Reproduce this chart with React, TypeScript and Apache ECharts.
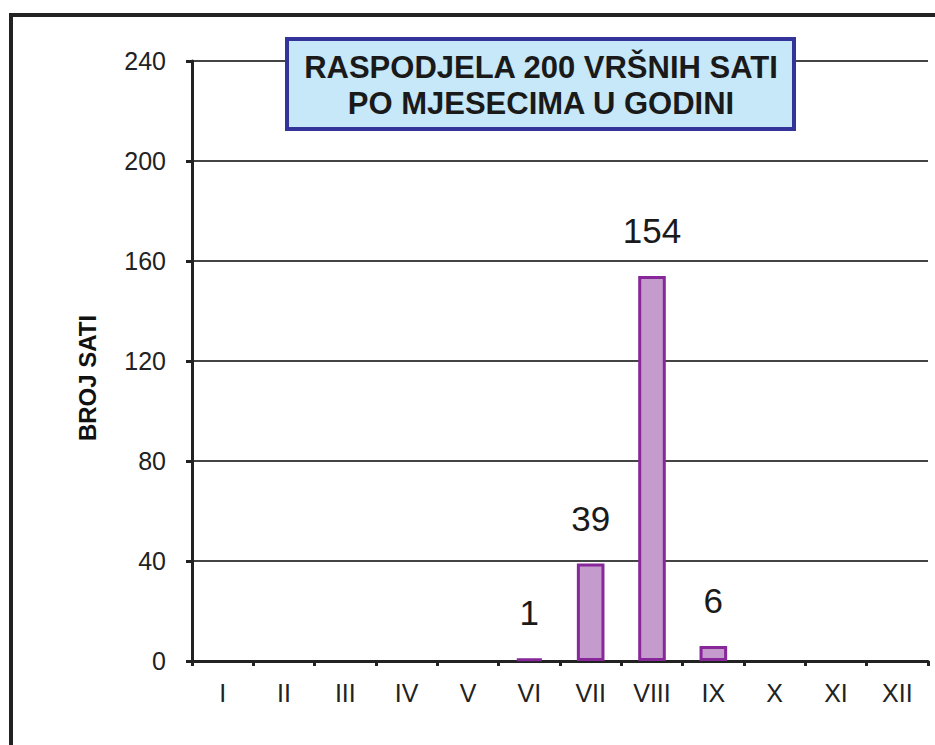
import React, { useEffect, useRef } from "react";
import * as echarts from "echarts";

const months = ["I", "II", "III", "IV", "V", "VI", "VII", "VIII", "IX", "X", "XI", "XII"];
const hours = [0, 0, 0, 0, 0, 1, 39, 154, 6, 0, 0, 0];
const titleLines = ["RASPODJELA 200 VRŠNIH SATI", "PO MJESECIMA U GODINI"];
const yAxisName = "BROJ SATI";

const FONT = "Liberation Sans, Arial, sans-serif";

export default function App() {
  const ref = useRef<HTMLDivElement>(null);
  useEffect(() => {
    if (!ref.current) return;
    const chart = echarts.init(ref.current, null, { renderer: "svg" });
    chart.setOption({
      animation: false,
      backgroundColor: "#ffffff",
      textStyle: { fontFamily: FONT },
      grid: { left: 192, right: 7, top: 61, bottom: 84, containLabel: false },
      xAxis: {
        type: "category",
        data: months,
        axisLine: { lineStyle: { color: "#222", width: 3 } },
        axisTick: { show: true, length: 5, lineStyle: { color: "#222", width: 3 } },
        axisLabel: { color: "#222", fontSize: 25, margin: 19 },
      },
      yAxis: {
        type: "value",
        min: 0,
        max: 240,
        interval: 40,
        axisLine: { show: true, lineStyle: { color: "#222", width: 3 } },
        axisTick: { show: true, length: 6, lineStyle: { color: "#222", width: 3 } },
        axisLabel: { color: "#222", fontSize: 25, margin: 26 },
        splitLine: { lineStyle: { color: "#444", width: 2 } },
      },
      series: [
        {
          type: "bar",
          data: hours.map((v) => (v > 0 ? v : null)),
          barWidth: "45%",
          itemStyle: { color: "#c49bcc", borderColor: "#87279a", borderWidth: 3 },
          label: {
            show: true,
            position: "top",
            distance: 28,
            fontSize: 35,
            color: "#1a1a1a",
          },
        },
      ],
      graphic: [
        { type: "line", shape: { x1: 10, y1: 15, x2: 935, y2: 15 }, style: { stroke: "#222", lineWidth: 4 } },
        { type: "line", shape: { x1: 11, y1: 13, x2: 11, y2: 745 }, style: { stroke: "#222", lineWidth: 4 } },
        {
          type: "text",
          x: 87,
          y: 378,
          rotation: Math.PI / 2,
          style: {
            text: yAxisName,
            fontSize: 24,
            fontWeight: "bold",
            fill: "#111",
            align: "center",
            verticalAlign: "middle",
            fontFamily: FONT,
          },
        },
        {
          type: "rect",
          shape: { x: 287, y: 39, width: 507, height: 90 },
          style: { fill: "#c6e8f8", stroke: "#33339a", lineWidth: 4 },
          z: 100,
        },
        {
          type: "text",
          x: 541,
          y: 67,
          style: {
            text: titleLines[0],
            fontSize: 31,
            fontWeight: "bold",
            fill: "#1a1a1a",
            align: "center",
            verticalAlign: "middle",
            fontFamily: FONT,
          },
          z: 101,
        },
        {
          type: "text",
          x: 541,
          y: 103,
          style: {
            text: titleLines[1],
            fontSize: 31,
            fontWeight: "bold",
            fill: "#1a1a1a",
            align: "center",
            verticalAlign: "middle",
            fontFamily: FONT,
          },
          z: 101,
        },
      ],
    });
    return () => chart.dispose();
  }, []);
  return (
    <div
      ref={ref}
      style={{ position: "fixed", left: 0, top: 0, width: 935, height: 745 }}
    />
  );
}
